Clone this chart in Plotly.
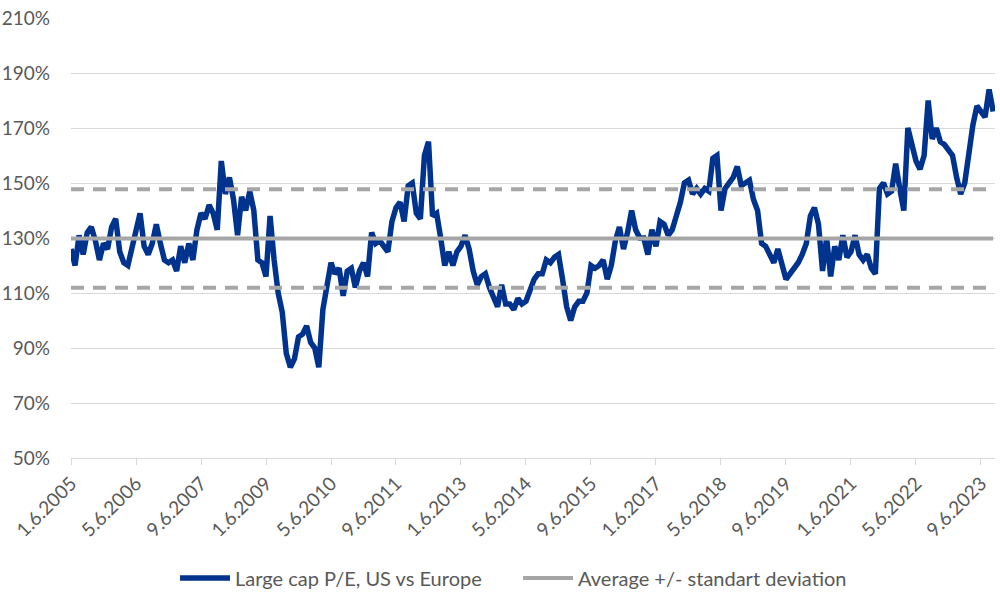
import plotly.graph_objects as go

# ---- data -------------------------------------------------------------
tick_labels = ["1.6.2005", "5.6.2006", "9.6.2007", "1.6.2009", "5.6.2010",
               "9.6.2011", "1.6.2013", "5.6.2014", "9.6.2015", "1.6.2017",
               "5.6.2018", "9.6.2019", "1.6.2021", "5.6.2022", "9.6.2023"]
obs_per_label = 16  # observations between two labelled dates

# Large cap P/E, US vs Europe (in %)
pe_us_vs_europe = [
    126, 120, 131, 124, 132, 134, 129, 122, 128, 126, 134, 137, 125, 121, 120, 127,
    133, 139, 127, 124, 128, 135, 128, 122, 121, 122, 118, 127, 121, 128, 122, 133,
    139, 137, 142, 139, 133, 158, 146, 152, 144, 131, 145, 140, 147, 140, 122, 121,
    116, 138, 122, 110, 103, 88, 83, 86, 94, 95, 98, 92, 90, 83, 104, 113,
    121, 117, 119, 109, 118, 119, 112, 118, 121, 116, 132, 128, 129, 127, 125, 136,
    141, 143, 136, 149, 150, 139, 137, 160, 165, 138, 139, 130, 120, 125, 120, 125,
    127, 131, 126, 118, 113, 116, 117, 112, 108, 105, 113, 106, 106, 104, 108, 106,
    107, 111, 115, 117, 117, 122, 121, 123, 124, 115, 105, 100, 105, 107, 107, 110,
    120, 119, 120, 122, 115, 120, 129, 134, 126, 132, 140, 133, 130, 130, 124, 133,
    127, 136, 135, 131, 133, 138, 143, 150, 151, 146, 148, 146, 148, 147, 159, 160,
    140, 148, 150, 152, 156, 149, 150, 151, 144, 140, 128, 127, 124, 121, 126, 121,
    115, 117, 119, 121, 124, 128, 138, 141, 135, 118, 130, 116, 127, 122, 131, 123,
    125, 131, 124, 122, 124, 119, 117, 148, 150, 146, 147, 157, 148, 140, 170, 163,
    158, 155, 160, 180, 166, 170, 165, 164, 162, 160, 152, 146, 150, 162, 171, 178,
    176, 174, 184, 176,
]

average = 129.8
std_dev = 17.9

# ---- figure -----------------------------------------------------------
BLUE = "#00338D"
GREY = "#A6A6A6"
GRID = "#D9D9D9"
TEXT = "#595959"
FONT = "Lato"

x = list(range(len(pe_us_vs_europe)))
tick_pos = [i * obs_per_label for i in range(len(tick_labels))]
x_span = [x[0], x[-1]]

fig = go.Figure()

fig.add_trace(go.Scatter(
    x=x, y=pe_us_vs_europe, mode="lines",
    line=dict(color=BLUE, width=5.5, shape="linear"),
    name="Large cap P/E, US vs Europe"))
fig.add_trace(go.Scatter(
    x=x_span, y=[average + std_dev] * 2, mode="lines",
    line=dict(color=GREY, width=4, dash="13px,9px"),
    showlegend=False, hoverinfo="skip"))
fig.add_trace(go.Scatter(
    x=x_span, y=[average - std_dev] * 2, mode="lines",
    line=dict(color=GREY, width=4, dash="13px,9px"),
    showlegend=False, hoverinfo="skip"))
fig.add_trace(go.Scatter(
    x=x_span, y=[average] * 2, mode="lines",
    line=dict(color=GREY, width=4),
    name="Average +/- standart deviation"))

fig.update_layout(
    width=1000, height=602,
    margin=dict(l=71, r=5, t=18, b=144),
    paper_bgcolor="white", plot_bgcolor="white",
    font=dict(family=FONT, size=19, color=TEXT),
    showlegend=True,
    legend=dict(orientation="h", x=0.1126, xanchor="left",
                y=-0.273, yanchor="middle",
                entrywidth=278, entrywidthmode="pixels",
                font=dict(family=FONT, size=20, color=TEXT),
                itemwidth=50, traceorder="normal"),
    xaxis=dict(
        range=[0, 227.45], tickmode="array", automargin=False,
        tickvals=tick_pos, ticktext=tick_labels, tickangle=-45,
        showgrid=False, zeroline=False,
        showline=True, linecolor=GRID, linewidth=1,
        ticks="outside", ticklen=6, tickcolor=GRID,
        tickfont=dict(family=FONT, size=19, color=TEXT)),
    yaxis=dict(
        range=[50, 210], tick0=50, dtick=20, ticksuffix="%",
        automargin=False,
        showgrid=True, gridcolor=GRID, gridwidth=1,
        zeroline=False, showline=False, ticks="",
        ticklabelstandoff=20,
        tickfont=dict(family=FONT, size=19, color=TEXT)),
)

fig.write_html(
    "out.html",
    config={"displayModeBar": False},
    post_script="document.body.style.margin='0';document.body.style.padding='0';",
)
